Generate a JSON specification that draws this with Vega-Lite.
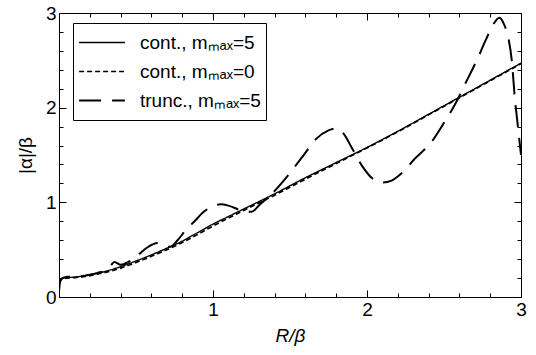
{
  "$schema": "https://vega.github.io/schema/vega-lite/v6.json",
  "width": 462,
  "height": 284,
  "autosize": "none",
  "padding": {"left": 59, "top": 13, "right": 15, "bottom": 58},
  "background": "white",
  "config": {
    "view": {"stroke": "black", "strokeWidth": 1},
    "font": "Liberation Sans",
    "axis": {"domainColor": "black", "tickColor": "black", "labelColor": "black", "titleColor": "black", "grid": false, "labelOverlap": false, "labelFlush": false, "labelFont": "Liberation Sans", "titleFont": "Liberation Sans", "labelFontSize": 19, "titleFontSize": 19, "titleFontWeight": "normal", "format": "d"}
  },
  "data": {"values": [
    {"s": "c5", "x": 0, "y": 0.06}, {"s": "c5", "x": 0.005, "y": 0.15}, {"s": "c5", "x": 0.015, "y": 0.19}, {"s": "c5", "x": 0.03, "y": 0.2}, {"s": "c5", "x": 0.06, "y": 0.205}, {"s": "c5", "x": 0.1, "y": 0.21}, {"s": "c5", "x": 0.15, "y": 0.22}, {"s": "c5", "x": 0.2, "y": 0.235}, {"s": "c5", "x": 0.25, "y": 0.25}, {"s": "c5", "x": 0.3, "y": 0.27}, {"s": "c5", "x": 0.4, "y": 0.32}, {"s": "c5", "x": 0.5, "y": 0.38}, {"s": "c5", "x": 0.6, "y": 0.445}, {"s": "c5", "x": 0.7, "y": 0.515}, {"s": "c5", "x": 0.8, "y": 0.59}, {"s": "c5", "x": 0.9, "y": 0.68}, {"s": "c5", "x": 1.0, "y": 0.77}, {"s": "c5", "x": 1.1, "y": 0.85}, {"s": "c5", "x": 1.2, "y": 0.93}, {"s": "c5", "x": 1.4, "y": 1.09}, {"s": "c5", "x": 1.6, "y": 1.26}, {"s": "c5", "x": 1.8, "y": 1.42}, {"s": "c5", "x": 2.0, "y": 1.58}, {"s": "c5", "x": 2.2, "y": 1.75}, {"s": "c5", "x": 2.4, "y": 1.93}, {"s": "c5", "x": 2.6, "y": 2.11}, {"s": "c5", "x": 2.8, "y": 2.29}, {"s": "c5", "x": 3.0, "y": 2.47},
    {"s": "c0", "x": 0, "y": 0.06}, {"s": "c0", "x": 0.005, "y": 0.14}, {"s": "c0", "x": 0.015, "y": 0.185}, {"s": "c0", "x": 0.03, "y": 0.195}, {"s": "c0", "x": 0.1, "y": 0.205}, {"s": "c0", "x": 0.2, "y": 0.225}, {"s": "c0", "x": 0.3, "y": 0.26}, {"s": "c0", "x": 0.4, "y": 0.305}, {"s": "c0", "x": 0.5, "y": 0.365}, {"s": "c0", "x": 0.6, "y": 0.43}, {"s": "c0", "x": 0.7, "y": 0.5}, {"s": "c0", "x": 0.8, "y": 0.575}, {"s": "c0", "x": 0.9, "y": 0.66}, {"s": "c0", "x": 1.0, "y": 0.75}, {"s": "c0", "x": 1.2, "y": 0.915}, {"s": "c0", "x": 1.4, "y": 1.075}, {"s": "c0", "x": 1.6, "y": 1.245}, {"s": "c0", "x": 1.8, "y": 1.41}, {"s": "c0", "x": 2.0, "y": 1.575}, {"s": "c0", "x": 2.2, "y": 1.745}, {"s": "c0", "x": 2.4, "y": 1.925}, {"s": "c0", "x": 2.6, "y": 2.105}, {"s": "c0", "x": 2.8, "y": 2.285}, {"s": "c0", "x": 3.0, "y": 2.465},
    {"s": "t5", "x": 0, "y": 0.06}, {"s": "t5", "x": 0.005, "y": 0.15}, {"s": "t5", "x": 0.015, "y": 0.19}, {"s": "t5", "x": 0.03, "y": 0.205}, {"s": "t5", "x": 0.06, "y": 0.215}, {"s": "t5", "x": 0.1, "y": 0.21}, {"s": "t5", "x": 0.15, "y": 0.22}, {"s": "t5", "x": 0.2, "y": 0.235}, {"s": "t5", "x": 0.25, "y": 0.255}, {"s": "t5", "x": 0.3, "y": 0.28}, {"s": "t5", "x": 0.33, "y": 0.32}, {"s": "t5", "x": 0.36, "y": 0.37}, {"s": "t5", "x": 0.4, "y": 0.34}, {"s": "t5", "x": 0.45, "y": 0.37}, {"s": "t5", "x": 0.51, "y": 0.44}, {"s": "t5", "x": 0.57, "y": 0.52}, {"s": "t5", "x": 0.64, "y": 0.57}, {"s": "t5", "x": 0.68, "y": 0.55}, {"s": "t5", "x": 0.72, "y": 0.53}, {"s": "t5", "x": 0.77, "y": 0.6}, {"s": "t5", "x": 0.82, "y": 0.7}, {"s": "t5", "x": 0.88, "y": 0.8}, {"s": "t5", "x": 0.94, "y": 0.9}, {"s": "t5", "x": 1.0, "y": 0.96}, {"s": "t5", "x": 1.05, "y": 0.98}, {"s": "t5", "x": 1.1, "y": 0.965}, {"s": "t5", "x": 1.15, "y": 0.935}, {"s": "t5", "x": 1.2, "y": 0.9}, {"s": "t5", "x": 1.25, "y": 0.9}, {"s": "t5", "x": 1.3, "y": 0.97}, {"s": "t5", "x": 1.4, "y": 1.12}, {"s": "t5", "x": 1.49, "y": 1.29}, {"s": "t5", "x": 1.58, "y": 1.48}, {"s": "t5", "x": 1.67, "y": 1.67}, {"s": "t5", "x": 1.75, "y": 1.76}, {"s": "t5", "x": 1.8, "y": 1.78}, {"s": "t5", "x": 1.85, "y": 1.72}, {"s": "t5", "x": 1.9, "y": 1.58}, {"s": "t5", "x": 1.97, "y": 1.38}, {"s": "t5", "x": 2.03, "y": 1.26}, {"s": "t5", "x": 2.1, "y": 1.21}, {"s": "t5", "x": 2.16, "y": 1.23}, {"s": "t5", "x": 2.22, "y": 1.3}, {"s": "t5", "x": 2.31, "y": 1.46}, {"s": "t5", "x": 2.42, "y": 1.64}, {"s": "t5", "x": 2.5, "y": 1.84}, {"s": "t5", "x": 2.58, "y": 2.06}, {"s": "t5", "x": 2.64, "y": 2.26}, {"s": "t5", "x": 2.71, "y": 2.49}, {"s": "t5", "x": 2.77, "y": 2.71}, {"s": "t5", "x": 2.82, "y": 2.88}, {"s": "t5", "x": 2.86, "y": 2.95}, {"s": "t5", "x": 2.89, "y": 2.88}, {"s": "t5", "x": 2.92, "y": 2.72}, {"s": "t5", "x": 2.94, "y": 2.5}, {"s": "t5", "x": 2.96, "y": 2.1}, {"s": "t5", "x": 2.98, "y": 1.8}, {"s": "t5", "x": 3.0, "y": 1.5}
  ]},
  "layer": [
    {
      "mark": {"type": "line", "interpolate": "monotone", "color": "black", "clip": true},
      "encoding": {
        "x": {"field": "x", "type": "quantitative", "scale": {"domain": [0, 3], "nice": false, "zero": false},
          "axis": {"orient": "bottom", "values": [0, 0.2, 0.4, 0.6, 0.8, 1, 1.2, 1.4, 1.6, 1.8, 2, 2.2, 2.4, 2.6, 2.8, 3],
            "labelExpr": "abs(datum.value - round(datum.value)) < 0.001 && datum.value > 0 ? format(datum.value, 'd') : ''",
            "tickSize": {"condition": {"test": "abs(datum.value - round(datum.value)) < 0.001", "value": -7}, "value": -4},
            "labelPadding": 10, "title": "R/β", "titleFontStyle": "italic", "titlePadding": 4}},
        "y": {"field": "y", "type": "quantitative", "scale": {"domain": [0, 3], "nice": false, "zero": false},
          "axis": {"orient": "left", "values": [0, 0.2, 0.4, 0.6, 0.8, 1, 1.2, 1.4, 1.6, 1.8, 2, 2.2, 2.4, 2.6, 2.8, 3],
            "labelExpr": "abs(datum.value - round(datum.value)) < 0.001 ? format(datum.value, 'd') : ''",
            "tickSize": {"condition": {"test": "abs(datum.value - round(datum.value)) < 0.001", "value": -7}, "value": -4},
            "labelPadding": 10, "title": "|α|/β", "titlePadding": 10}},
        "strokeDash": {"field": "s", "type": "nominal",
          "scale": {"domain": ["c5", "c0", "t5"], "range": [[1, 0], [5, 3], [22, 11]]},
          "legend": {"orient": "none", "legendX": 14, "legendY": 10, "title": null, "symbolType": "stroke", "symbolSize": 2100,
            "symbolStrokeColor": "black", "symbolStrokeWidth": 2, "labelFontSize": 19, "labelFont": "Liberation Sans", "labelColor": "black",
            "strokeColor": "black", "fillColor": "white", "padding": 5, "rowPadding": 0, "clipHeight": 29, "labelOffset": 14, "labelLimit": 0,
            "labelExpr": "datum.value == 'c5' ? 'cont.,  mₘₐₓ=5' : datum.value == 'c0' ? 'cont.,  mₘₐₓ=0' : 'trunc., mₘₐₓ=5'"}},
        "strokeWidth": {"field": "s", "type": "nominal", "scale": {"domain": ["c5", "c0", "t5"], "range": [1.4, 2, 2.5]}, "legend": null}
      }
    },
    {
      "mark": {"type": "line", "opacity": 0},
      "encoding": {
        "x": {"field": "x", "type": "quantitative",
          "axis": {"orient": "top", "values": [0, 0.2, 0.4, 0.6, 0.8, 1, 1.2, 1.4, 1.6, 1.8, 2, 2.2, 2.4, 2.6, 2.8, 3], "labels": false, "title": null,
            "tickSize": {"condition": {"test": "abs(datum.value - round(datum.value)) < 0.001", "value": -7}, "value": -4}}},
        "y": {"field": "y", "type": "quantitative",
          "axis": {"orient": "right", "values": [0, 0.2, 0.4, 0.6, 0.8, 1, 1.2, 1.4, 1.6, 1.8, 2, 2.2, 2.4, 2.6, 2.8, 3], "labels": false, "title": null,
            "tickSize": {"condition": {"test": "abs(datum.value - round(datum.value)) < 0.001", "value": -7}, "value": -4}}},
        "detail": {"field": "s", "type": "nominal"}
      }
    }
  ],
  "resolve": {"axis": {"x": "independent", "y": "independent"}}
}
